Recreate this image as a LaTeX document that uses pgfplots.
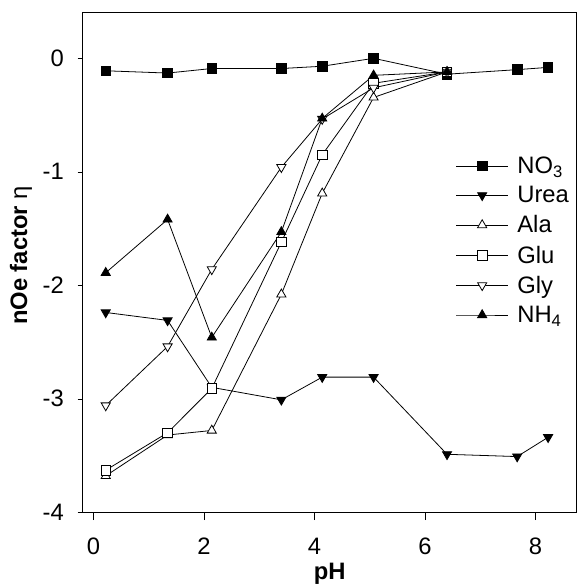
\documentclass[border=0pt]{standalone}
\usepackage{pgfplots}
\pgfplotsset{compat=1.18}
\usepackage{fontspec}
\setmainfont{Liberation Sans}

\begin{document}
\begin{tikzpicture}
\begin{axis}[
    scale only axis,
    width=497bp, height=502bp,
    xmin=-0.2, xmax=8.75,
    ymin=-4, ymax=0.4,
    xtick={0,2,4,6,8},
    ytick={-4,-3,-2,-1,0},
    tick align=outside,
    xtick pos=bottom, ytick pos=left,
    x tick style={black, /pgfplots/major tick length=8bp},
    y tick style={black, /pgfplots/major tick length=5bp},
    axis line style={line width=0.9pt},
    /pgf/number format/assume math mode=true,
    ticklabel style={font=\fontsize{24}{28}\selectfont},
    xticklabel style={yshift=-18bp},
    yticklabel style={xshift=-11bp},
    xlabel={\textbf{pH}},
    ylabel={\textbf{nOe factor} η},
    xlabel style={font=\fontsize{24}{28}\selectfont,
        at={(axis description cs:0.5,0)}, anchor=north, yshift=-48bp},
    ylabel style={font=\fontsize{24}{28}\selectfont,
        at={(axis description cs:-0.095,0.514)}, anchor=south},
    every axis plot/.append style={line width=0.8pt, black},
    legend style={draw=none, fill=none, font=\fontsize{24}{28}\selectfont,
        at={(axis description cs:0.755,0.716)}, anchor=north west,
        inner sep=0pt, row sep=7.5bp,
        /tikz/every odd column/.append style={column sep=7bp}},
    legend cell align=left,
    legend image code/.code={
        \draw[mark repeat=2,mark phase=2] plot coordinates {(0bp,0bp) (26bp,0bp) (52bp,0bp)};
    },
]
% NO3
\addplot[mark=square*, mark size=4.8bp, mark options={fill=black}] coordinates {
    (0.22,-0.11) (1.34,-0.13) (2.14,-0.09) (3.40,-0.09) (4.14,-0.07)
    (5.07,0.0) (6.40,-0.14) (7.67,-0.10) (8.23,-0.08)
};
\addlegendentry{NO\textsubscript{3}}
% Urea
\addplot[mark=triangle*, mark size=5.3bp, mark options={rotate=180, fill=black}] coordinates {
    (0.22,-2.24) (1.34,-2.31) (2.14,-2.90) (3.40,-3.01) (4.14,-2.81)
    (5.07,-2.81) (6.40,-3.49) (7.67,-3.51) (8.23,-3.34)
};
\addlegendentry{Urea}
% Ala
\addplot[mark=triangle*, mark size=5.3bp, mark options={fill=white}] coordinates {
    (0.22,-3.68) (1.34,-3.32) (2.14,-3.28) (3.40,-2.08) (4.14,-1.19)
    (5.07,-0.345) (6.40,-0.12)
};
\addlegendentry{Ala}
% Glu
\addplot[mark=square*, mark size=4.8bp, mark options={fill=white}] coordinates {
    (0.22,-3.63) (1.34,-3.30) (2.14,-2.91) (3.40,-1.62) (4.14,-0.85)
    (5.07,-0.22) (6.40,-0.12)
};
\addlegendentry{Glu}
% Gly
\addplot[mark=triangle*, mark size=5.3bp, mark options={rotate=180, fill=white}] coordinates {
    (0.22,-3.06) (1.34,-2.54) (2.14,-1.86) (3.40,-0.96) (4.14,-0.535)
    (5.07,-0.26) (6.40,-0.12)
};
\addlegendentry{Gly}
% NH4
\addplot[mark=triangle*, mark size=5.3bp, mark options={fill=black}] coordinates {
    (0.22,-1.89) (1.34,-1.42) (2.14,-2.46) (3.40,-1.53) (4.14,-0.53)
    (5.07,-0.15) (6.40,-0.12)
};
\addlegendentry{NH\textsubscript{4}}
\end{axis}
\path ([xshift=-83bp,yshift=-73bp]current axis.south west)
      ([xshift=2bp,yshift=13bp]current axis.north east);
\end{tikzpicture}
\end{document}
